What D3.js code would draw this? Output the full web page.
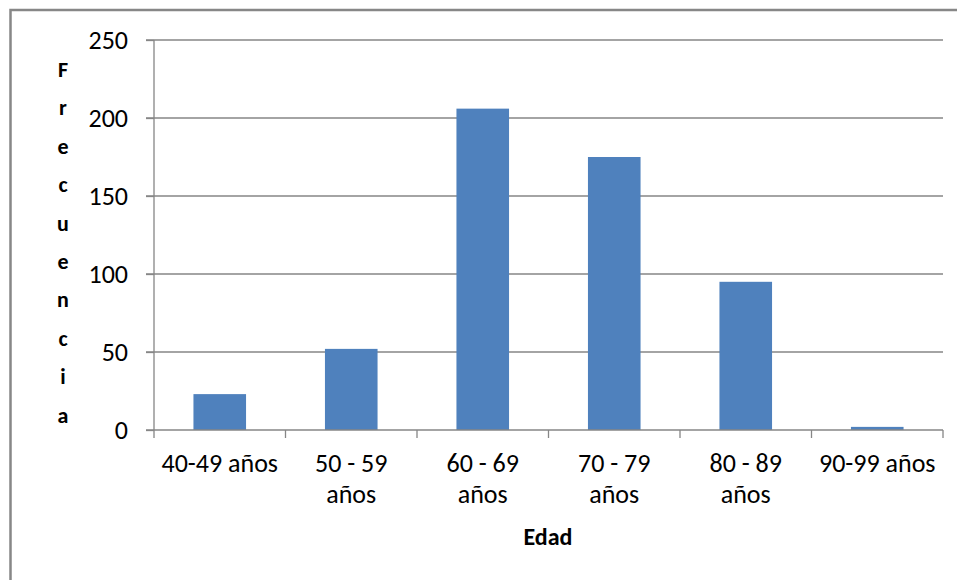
<!DOCTYPE html>
<html><head><meta charset="utf-8">
<script src="https://cdn.jsdelivr.net/npm/d3@7"></script>
<style>body{margin:0;background:#fff}svg{display:block}</style>
</head><body>
<script>
const categories = [["40-49 años"],["50 - 59","años"],["60 - 69","años"],["70 - 79","años"],["80 - 89","años"],["90-99 años"]];
const values = [23, 52, 206, 175, 95, 2];
const yTicks = [0, 50, 100, 150, 200, 250];
const yTitle = "Frecuencia";
const xTitle = "Edad";

const W = 957, H = 580;
const m = {left:154, right:943, top:40, bottom:430};
const font = "Carlito, Calibri, 'Open Sans', sans-serif";

const svg = d3.select("body").append("svg").attr("width", W).attr("height", H);
svg.append("rect").attr("x",0).attr("y",0).attr("width",W).attr("height",H).attr("fill","#fff");
svg.append("rect").attr("x",10.5).attr("y",10).attr("width",W+20).attr("height",H+20)
  .attr("fill","none").attr("stroke","#878787").attr("stroke-width",2.5);

const idx = categories.map((d,i)=>i);
const x = d3.scaleBand().domain(idx).range([m.left, m.right]).paddingInner(0.6).paddingOuter(0.3);
const xb = d3.scaleBand().domain(idx).range([m.left, m.right]);
const y = d3.scaleLinear().domain([0,250]).range([m.bottom, m.top]);

// gridlines
svg.append("g").selectAll("line").data(yTicks.filter(t=>t>0)).join("line")
  .attr("x1", m.left-8).attr("x2", m.right).attr("y1", d=>y(d)).attr("y2", d=>y(d))
  .attr("stroke","#868686").attr("stroke-width",1.3);

// bars
svg.append("g").selectAll("rect").data(values).join("rect")
  .attr("x",(d,i)=>x(i)).attr("width",x.bandwidth())
  .attr("y",d=>y(d)).attr("height",d=>y(0)-y(d)).attr("fill","#4F81BD");

// y axis
const ya = svg.append("g").attr("transform",`translate(${m.left},0)`)
  .call(d3.axisLeft(y).tickValues(yTicks).tickSize(8).tickPadding(18));
ya.select(".domain").attr("stroke","#868686").attr("stroke-width",1.3).attr("d",`M0,${m.top}V${m.bottom}`);
ya.selectAll(".tick line").attr("stroke","#868686").attr("stroke-width",1.3);
ya.selectAll(".tick text").attr("font-family",font).attr("font-size",26).attr("fill","#000").attr("dy","0.33em");

// x axis
const xa = svg.append("g").attr("transform",`translate(0,${m.bottom})`);
xa.append("line").attr("x1",m.left-8).attr("x2",m.right).attr("stroke","#868686").attr("stroke-width",1.3);
const edges = idx.map(i=>xb(i)).concat([m.right]);
xa.selectAll("line.t").data(edges).join("line").attr("class","t")
  .attr("x1",d=>d).attr("x2",d=>d).attr("y1",0).attr("y2",8)
  .attr("stroke","#868686").attr("stroke-width",1.3);
xa.selectAll("text.c").data(categories).join("text").attr("class","c")
  .attr("text-anchor","middle").attr("font-family",font).attr("font-size",26).attr("fill","#000")
  .each(function(d,i){
    const t = d3.select(this);
    d.forEach((line,j)=>{
      t.append("tspan").attr("x", xb(i)+xb.bandwidth()/2).attr("y", 42 + j*31).text(line);
    });
  });

// titles
svg.append("g").selectAll("text").data(yTitle.split("")).join("text")
  .attr("x",63).attr("y",(d,i)=>77 + i*38.4).attr("text-anchor","middle")
  .attr("font-family",font).attr("font-size",22).attr("font-weight","bold").text(d=>d);
svg.append("text").attr("x",548).attr("y",545).attr("text-anchor","middle")
  .attr("font-family",font).attr("font-size",24).attr("font-weight","bold").text(xTitle);
</script>
</body></html>
